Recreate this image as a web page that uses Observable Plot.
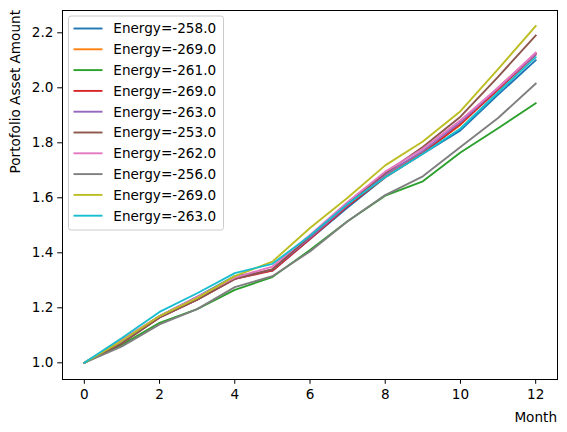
<!DOCTYPE html>
<html>
<head>
<meta charset="utf-8">
<script src="https://cdn.jsdelivr.net/npm/d3@7"></script>
<script src="https://cdn.jsdelivr.net/npm/@observablehq/plot@0.6"></script>
<style>
  html, body { margin: 0; padding: 0; background: white; }
  #chart svg { display: block; }
</style>
</head>
<body>
<div id="chart"></div>
<script>
const months = [0,1,2,3,4,5,6,7,8,9,10,11,12];
const labels = ["Energy=-258.0","Energy=-269.0","Energy=-261.0","Energy=-269.0","Energy=-263.0",
                "Energy=-253.0","Energy=-262.0","Energy=-256.0","Energy=-269.0","Energy=-263.0"];
const s0 = [1.0,1.08,1.17,1.24,1.315,1.335,1.45,1.565,1.675,1.76,1.845,1.975,2.10];
const s1 = [1.0,1.075,1.165,1.23,1.305,1.34,1.455,1.575,1.68,1.765,1.865,2.0,2.125];
const s2 = [1.0,1.065,1.145,1.195,1.265,1.312,1.41,1.515,1.608,1.66,1.765,1.853,1.944];
const s3 = [1.0,1.075,1.165,1.23,1.305,1.335,1.45,1.57,1.675,1.762,1.868,1.993,2.12];
const s4 = [1.0,1.075,1.165,1.23,1.305,1.34,1.455,1.575,1.685,1.77,1.875,2.0,2.122];
const s5 = [1.0,1.07,1.165,1.23,1.305,1.34,1.46,1.58,1.69,1.785,1.895,2.04,2.19];
const s6 = [1.0,1.085,1.17,1.24,1.31,1.35,1.465,1.585,1.695,1.778,1.882,2.0,2.128];
const s7 = [1.0,1.06,1.14,1.195,1.275,1.315,1.405,1.515,1.61,1.678,1.785,1.89,2.015];
const s8 = [1.0,1.08,1.17,1.235,1.315,1.368,1.49,1.6,1.718,1.805,1.915,2.068,2.224];
const s9 = [1.0,1.09,1.185,1.253,1.326,1.36,1.462,1.578,1.675,1.76,1.852,1.984,2.111];
const seriesValues = [s0,s1,s2,s3,s4,s5,s6,s7,s8,s9];
const colors = ["#1f77b4","#ff7f0e","#2ca02c","#d62728","#9467bd","#8c564b","#e377c2","#7f7f7f","#bcbd22","#17becf"];
const xTicks = [0,2,4,6,8,10,12];
const yTicks = [1.0,1.2,1.4,1.6,1.8,2.0,2.2];
const xLabel = "Month";
const yLabel = "Portofolio Asset Amount";

const rows = [];
seriesValues.forEach((vals, si) => vals.forEach((v, i) => rows.push({series: si, month: months[i], value: v})));

const FONT = "DejaVu Sans";
const FS = 13.6;

const W = 567, H = 432;
const mL = 62, mR = 10, mT = 10, mB = 53;

const chart = Plot.plot({
  width: W, height: H,
  marginLeft: mL, marginRight: mR, marginTop: mT, marginBottom: mB,
  style: {fontFamily: FONT, fontSize: FS + "px", color: "#000", background: "white", overflow: "visible"},
  x: {domain: [-0.58, 12.58]},
  y: {domain: [0.9393, 2.2811]},
  color: {domain: d3.range(seriesValues.length), range: colors},
  marks: [
    Plot.axisX({ticks: xTicks, tickSize: 4.8, tickPadding: 5, tickFormat: d => String(d), label: null, stroke: "#000", strokeOpacity: 1, fontSize: FS}),
    Plot.axisY({ticks: yTicks, tickSize: 4.8, tickPadding: 4.3, tickFormat: d3.format(".1f"), label: null, stroke: "#000", strokeOpacity: 1, fontSize: FS}),
    Plot.line(rows, {x: "month", y: "value", z: "series", stroke: "series", strokeWidth: 1.9, strokeLinejoin: "round", strokeLinecap: "square"}),
    Plot.frame({stroke: "#000", strokeWidth: 1})
  ]
});
document.getElementById("chart").appendChild(chart);

const svg = d3.select(chart);
// axis labels
svg.append("text")
  .attr("x", W - mR).attr("y", 422)
  .attr("text-anchor", "end")
  .attr("font-family", FONT).attr("font-size", FS).attr("fill", "#000")
  .text(xLabel);
svg.append("text")
  .attr("transform", `translate(20,${mT}) rotate(-90)`)
  .attr("text-anchor", "end")
  .attr("font-family", FONT).attr("font-size", FS).attr("fill", "#000")
  .text(yLabel);

// legend
const lg = svg.append("g").attr("text-anchor", "start");
const lx = 68.5, ly = 16, lw = 155, lh = 214;
lg.append("rect").attr("x", lx).attr("y", ly).attr("width", lw).attr("height", lh)
  .attr("rx", 2.5).attr("fill", "white").attr("fill-opacity", 0.8)
  .attr("stroke", "#cccccc").attr("stroke-width", 1);
labels.forEach((lab, i) => {
  const cy = 28.5 + i * 20.8;
  lg.append("line").attr("x1", 73.5).attr("x2", 102.5).attr("y1", cy).attr("y2", cy)
    .attr("stroke", colors[i]).attr("stroke-width", 1.9);
  lg.append("text").attr("x", 113.3).attr("y", cy).attr("dy", "0.36em")
    .attr("text-anchor", "start")
    .attr("font-family", FONT).attr("font-size", FS).attr("fill", "#000")
    .text(lab);
});
</script>
</body>
</html>
